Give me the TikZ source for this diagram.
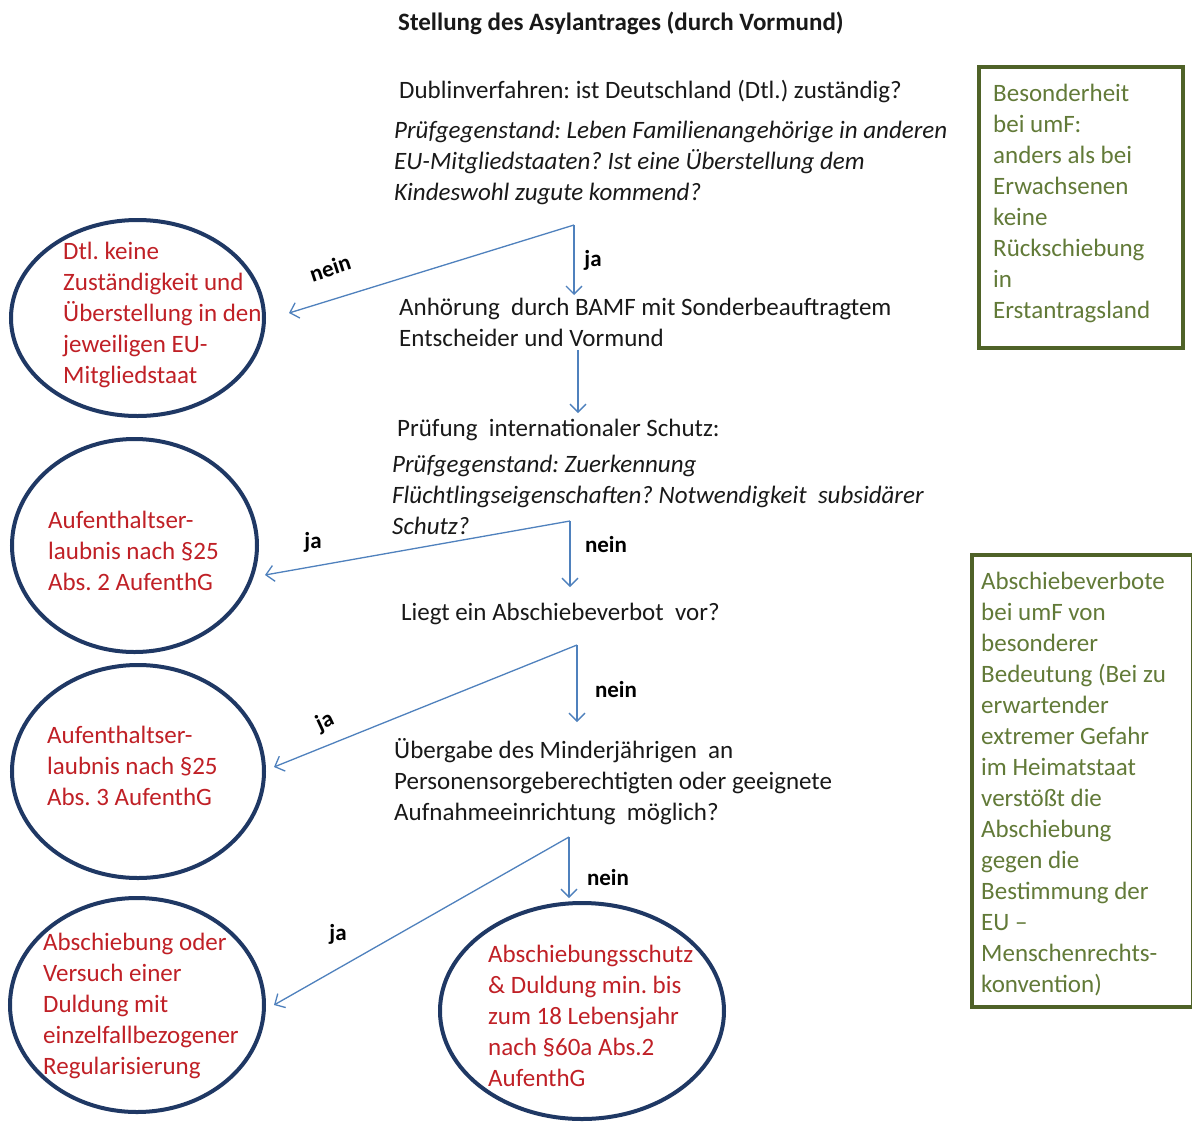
\documentclass[tikz,border=0pt]{standalone}
\usepackage{fontspec}
\setmainfont{Carlito}
\usetikzlibrary{arrows.meta,shapes.geometric}
\definecolor{arrowblue}{RGB}{79,129,189}
\definecolor{navyline}{RGB}{31,56,100}
\definecolor{redtxt}{RGB}{192,32,38}
\definecolor{oliveline}{RGB}{79,98,40}
\definecolor{olivetxt}{RGB}{98,122,56}
\newcommand\mlines[1]{\begin{tabular}[t]{@{}l@{}}#1\end{tabular}}
\frenchspacing
\begin{document}
\frenchspacing
\begin{tikzpicture}[x=1pt,y=-1pt,
  txt/.style={anchor=base west, inner sep=0pt, font=\fontsize{25}{31}\selectfont, text=black!90},
  itxt/.style={txt, font=\fontsize{25}{31}\selectfont\itshape},
  redtext/.style={txt, text=redtxt},
  sidetext/.style={txt, text=olivetxt},
  lbl/.style={inner sep=0pt, font=\fontsize{23}{26}\selectfont\bfseries, text=black},
  ell/.style={ellipse, draw=navyline, line width=4pt, inner sep=0pt},
  sidebox/.style={draw=oliveline, line width=4pt, anchor=north west, inner sep=0pt},
  conn/.style={draw=arrowblue, line width=1.3pt, -{Straight Barb[length=8pt,width=16pt]}}]
\useasboundingbox (0,0) rectangle (1192,1122);
\fill[white] (0,0) rectangle (1192,1122);

% title and main texts
\node[txt, font=\fontsize{25}{28}\selectfont\bfseries] (title) at (398,30) {Stellung des Asylantrages (durch Vormund)};
\node[txt] (dub) at (399,98) {Dublinverfahren: ist Deutschland (Dtl.) zuständig?};
\node[itxt] (dubi) at (394,138) {\mlines{Prüfgegenstand: Leben Familienangehörige in anderen\\EU-Mitgliedstaaten? Ist eine Überstellung dem\\Kindeswohl zugute kommend?}};
\node[txt] (anh) at (399,315) {\mlines{Anhörung\ \ durch BAMF mit Sonderbeauftragtem\\Entscheider und Vormund}};
\node[txt] (pr) at (397,436) {Prüfung\ \ internationaler Schutz:};
\node[itxt] (pri) at (392,472) {\mlines{Prüfgegenstand: Zuerkennung\\Flüchtlingseigenschaften? Notwendigkeit\ \ subsidärer\\Schutz?}};
\node[txt] (lieg) at (401,620) {Liegt ein Abschiebeverbot\ \ vor?};
\node[txt] (ueb) at (394,758) {\mlines{Übergabe des Minderjährigen\ \ an\\Personensorgeberechtigten oder geeignete\\Aufnahmeeinrichtung\ \ möglich?}};

% ellipses
\node[ell, minimum width=253, minimum height=196] (e1) at (137.5,318) {};
\node[ell, minimum width=245, minimum height=213] (e2) at (134.5,545.5) {};
\node[ell, minimum width=252, minimum height=213] (e3) at (138,771.5) {};
\node[ell, minimum width=254, minimum height=214] (e4) at (137,1005) {};
\node[ell, minimum width=284, minimum height=216] (e5) at (582,1011) {};

\node[redtext] (t1) at (63,259) {\mlines{Dtl. keine\\Zuständigkeit und\\Überstellung in den\\jeweiligen EU-\\Mitgliedstaat}};
\node[redtext] (t2) at (48,528) {\mlines{Aufenthaltser-\\laubnis nach §25\\Abs. 2 AufenthG}};
\node[redtext] (t3) at (47,743) {\mlines{Aufenthaltser-\\laubnis nach §25\\Abs. 3 AufenthG}};
\node[redtext] (t4) at (43,950) {\mlines{Abschiebung oder\\Versuch einer\\Duldung mit\\einzelfallbezogener\\Regularisierung}};
\node[redtext] (t5) at (488,962) {\mlines{Abschiebungsschutz\\\& Duldung min. bis\\zum 18 Lebensjahr\\nach §60a Abs.2\\AufenthG}};

% side boxes
\node[sidebox, minimum width=204, minimum height=281] (s1) at (977,65) {};
\node[sidetext] (s1t) at (993,101) {\mlines{Besonderheit\\bei umF:\\anders als bei\\Erwachsenen\\keine\\Rückschiebung\\in\\Erstantragsland}};
\node[sidebox, minimum width=221, minimum height=452] (s2) at (970,553) {};
\node[sidetext] (s2t) at (981,589) {\mlines{Abschiebeverbote\\bei umF von\\besonderer\\Bedeutung (Bei zu\\erwartender\\extremer Gefahr\\im Heimatstaat\\verstößt die\\Abschiebung\\gegen die\\Bestimmung der\\EU --\\Menschenrechts-\\konvention)}};

% connector points
\coordinate (b1) at (574,225);
\coordinate (j1) at (574,295);
\coordinate (a2s) at (578,350);
\coordinate (a2e) at (578,413);
\coordinate (b3) at (570,521);
\coordinate (n3) at (570,587);
\coordinate (b4) at (577,645);
\coordinate (n4) at (577,722);
\coordinate (b5) at (569,837);
\coordinate (n5) at (569,898);

\draw[conn] (b1) -- ([shift={(23,-5)}]e1.east);
\draw[conn] (b1) -- (j1);
\draw[conn] (a2s) -- (a2e);
\draw[conn] (b3) -- ([shift={(6,29.5)}]e2.east);
\draw[conn] (b3) -- (n3);
\draw[conn] (b4) -- ([shift={(8,-4.5)}]e3.east);
\draw[conn] (b4) -- (n4);
\draw[conn] (b5) -- ([shift={(8,0)}]e4.east);
\draw[conn] (b5) -- (n5);

% labels
\node[lbl, rotate=18] (l1) at (330,268) {nein};
\node[lbl] (l2) at (593,260) {ja};
\node[lbl] (l3) at (313,542) {ja};
\node[lbl] (l4) at (606,545) {nein};
\node[lbl, rotate=25] (l5) at (325,722) {ja};
\node[lbl] (l6) at (616,690) {nein};
\node[lbl] (l7) at (338,934) {ja};
\node[lbl] (l8) at (608,878) {nein};
\end{tikzpicture}
\end{document}
